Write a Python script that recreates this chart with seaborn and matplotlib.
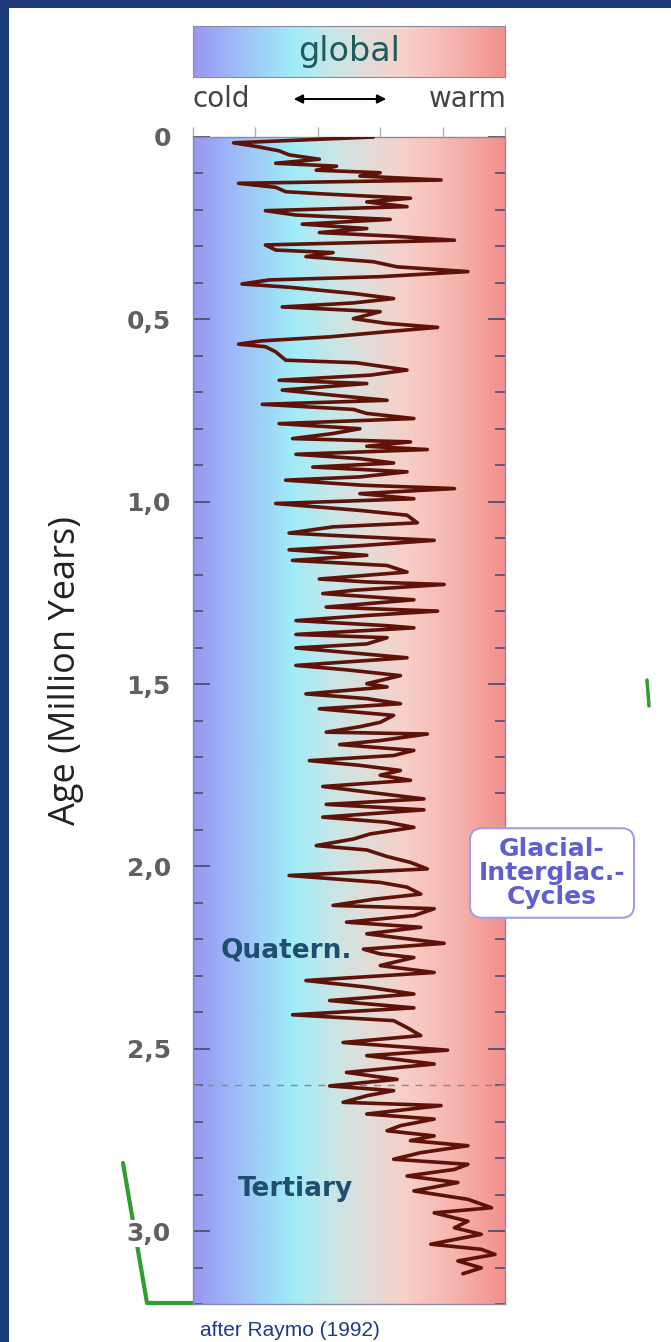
import matplotlib.pyplot as plt
import numpy as np
import pandas as pd
import seaborn as sns
from matplotlib.colors import LinearSegmentedColormap
from matplotlib.lines import Line2D
from matplotlib.patches import FancyArrowPatch, Rectangle
from matplotlib.ticker import MultipleLocator

# age in million years (top = present), temperature index 0 = cold, 100 = warm
AGES = [
    0.000, 0.016, 0.027, 0.038, 0.049, 0.061, 0.072, 0.080, 0.091, 0.098,
    0.107, 0.118, 0.127, 0.138, 0.150, 0.156, 0.168, 0.178, 0.191, 0.202,
    0.214, 0.226, 0.239, 0.251, 0.262, 0.272, 0.283, 0.296, 0.310, 0.317,
    0.328, 0.342, 0.356, 0.369, 0.383, 0.392, 0.403, 0.412, 0.429, 0.443,
    0.455, 0.466, 0.479, 0.498,
    0.511, 0.522, 0.534, 0.548, 0.559, 0.568, 0.575, 0.589, 0.612, 0.619,
    0.639, 0.653, 0.667, 0.676, 0.694, 0.708, 0.722, 0.733, 0.747, 0.758,
    0.772, 0.786, 0.800, 0.813, 0.827, 0.836, 0.848, 0.857, 0.870, 0.882,
    0.894, 0.905, 0.918, 0.932, 0.941, 0.955, 0.964, 0.978, 0.992, 1.005,
    1.024,
    1.037, 1.058, 1.069, 1.086, 1.092, 1.106, 1.120, 1.132, 1.147, 1.161,
    1.175, 1.193, 1.212, 1.220, 1.227, 1.243, 1.252, 1.269, 1.289, 1.300,
    1.312, 1.326, 1.340, 1.346, 1.364, 1.373, 1.390, 1.401, 1.415, 1.428,
    1.449, 1.461, 1.477, 1.499, 1.508, 1.527, 1.540, 1.554, 1.568,
    1.586, 1.605, 1.617, 1.632, 1.637, 1.655, 1.666, 1.682, 1.696, 1.710,
    1.723, 1.737, 1.750, 1.764, 1.781, 1.796, 1.815, 1.830, 1.845, 1.865,
    1.879, 1.893, 1.911, 1.925, 1.943, 1.955, 1.973, 1.989, 2.007, 2.025,
    2.044, 2.057, 2.076, 2.090,
    2.107, 2.116, 2.135, 2.153, 2.167, 2.185, 2.211, 2.227, 2.240, 2.250,
    2.272, 2.291, 2.313, 2.331, 2.350, 2.368, 2.388, 2.407, 2.423, 2.442,
    2.464, 2.483, 2.504, 2.519, 2.542, 2.565, 2.584, 2.602,
    2.615, 2.629, 2.647, 2.656, 2.679, 2.693, 2.711, 2.725, 2.739, 2.752,
    2.766, 2.785, 2.803, 2.817, 2.831, 2.849, 2.867, 2.890, 2.913, 2.936,
    2.950, 2.973, 2.991, 3.009, 3.036, 3.050, 3.064, 3.082, 3.101, 3.117,
]
TEMP_INDEX = [
    57.8, 13.0, 21.0, 27.6, 30.8, 40.5, 26.5, 46.0, 39.5, 60.0,
    53.5, 79.5, 14.6, 26.5, 29.7, 41.6, 69.7, 55.7, 68.6, 23.2,
    33.0, 63.2, 35.0, 55.7, 40.5, 64.3, 83.8, 23.2, 26.5, 44.9,
    36.2, 57.8, 65.4, 88.1, 60.0, 24.3, 15.7, 30.8, 51.4, 64.3,
    51.4, 28.6, 60.0, 51.4,
    62.0, 78.4, 62.0, 43.8, 22.0, 14.6, 23.2, 26.5, 29.7, 52.4,
    68.6, 56.8, 27.6, 55.7, 28.6, 44.9, 62.2, 22.2, 51.4, 55.7,
    70.8, 27.6, 53.5, 44.9, 31.9, 69.7, 55.7, 75.1, 33.0, 53.5,
    64.3, 38.4, 68.6, 53.5, 29.7, 54.6, 83.8, 53.5, 70.8, 26.5,
    53.5,
    68.6, 71.9, 44.9, 30.8, 43.8, 77.3, 54.6, 30.8, 55.7, 31.9,
    62.2, 68.6, 40.5, 55.7, 80.5, 51.4, 41.6, 70.8, 42.7, 78.4,
    55.7, 33.0, 62.2, 70.8, 33.0, 62.2, 55.7, 33.0, 51.4, 68.6,
    33.0, 49.2, 66.5, 55.7, 62.2, 36.2, 55.7, 66.5, 40.5,
    64.3, 60.0, 53.5, 42.7, 75.1, 60.0, 47.0, 70.8, 64.3, 37.3,
    53.5, 66.5, 60.0, 69.7, 41.6, 55.7, 74.0, 42.7, 74.0, 41.6,
    62.2, 70.8, 56.8, 51.4, 39.5, 55.7, 62.2, 69.7, 75.1, 30.8,
    60.0, 68.6, 73.0, 58.0,
    44.9, 77.3, 70.8, 49.2, 73.0, 55.7, 80.5, 54.6, 60.0, 70.8,
    60.0, 77.3, 36.2, 55.7, 70.8, 43.8, 70.8, 31.9, 64.3, 68.6,
    73.0, 48.1, 81.6, 55.7, 77.3, 49.2, 65.4, 43.8,
    64.3, 55.7, 48.1, 79.5, 55.7, 77.3, 66.5, 62.2, 77.3, 69.7,
    88.1, 73.0, 64.3, 88.1, 83.8, 68.6, 84.9, 70.8, 88.1, 95.7,
    77.3, 88.1, 83.8, 92.4, 76.2, 92.4, 96.8, 84.9, 92.4, 86.5,
]
Y_TICKS = [0, 0.5, 1.0, 1.5, 2.0, 2.5, 3.0]
Y_TICK_LABELS = ["0", "0,5", "1,0", "1,5", "2,0", "2,5", "3,0"]
BOUNDARY_AGE = 2.6
MAX_AGE = 3.2

W, H = 671, 1342

sns.set_style("white")
plt.rcParams["font.family"] = ["DejaVu Sans"]

cmap = LinearSegmentedColormap.from_list(
    "coldwarm",
    [(0.0, "#9a96f2"), (0.14, "#9ebcf8"), (0.32, "#a0ecf8"), (0.45, "#c8e6e8"),
     (0.56, "#e2dcd8"), (0.68, "#f8d0c9"), (0.85, "#f6b2ac"), (1.0, "#f3908d")],
)
gradient = np.linspace(0, 1, 256)[None, :]

fig = plt.figure(figsize=(W / 100, H / 100), dpi=100)
fig.patch.set_facecolor("#1c3a78")
fig.add_artist(Rectangle((9 / W, 0), 1, 1 - 8 / H, transform=fig.transFigure,
                         facecolor="white", edgecolor="none", zorder=-2))

# main panel
ax = fig.add_axes([193 / W, 1 - 1304 / H, 312 / W, 1167 / H])
ax.imshow(gradient, extent=[0, 100, MAX_AGE, 0], aspect="auto", cmap=cmap, zorder=0)

df = pd.DataFrame({"age": AGES, "temp": TEMP_INDEX})
sns.lineplot(data=df, x="temp", y="age", orient="y", estimator=None,
             color="#5e1208", lw=2.6, ax=ax, zorder=3)
ax.axhline(BOUNDARY_AGE, color="#8a8a8a", lw=1, ls=(0, (5, 5)), zorder=2)

ax.set_xlim(0, 100)
ax.set_ylim(MAX_AGE, 0)
ax.set_xlabel("")
ax.set_ylabel("")

ax.set_yticks(Y_TICKS)
ax.set_yticklabels(Y_TICK_LABELS)
ax.yaxis.set_minor_locator(MultipleLocator(0.1))
ax.tick_params(axis="y", which="major", direction="in", length=12, width=1.4,
               left=True, right=True, color="#555577", pad=16,
               labelsize=18, labelcolor="#606060")
ax.tick_params(axis="y", which="minor", direction="in", length=7, width=1.3,
               left=True, right=True, color="#555577")
for lbl in ax.get_yticklabels():
    lbl.set_fontweight("bold")
    lbl.set_bbox(dict(facecolor="white", edgecolor="none", pad=1))

ax.xaxis.tick_top()
ax.set_xticks(range(0, 101, 20))
ax.tick_params(axis="x", direction="out", length=7, width=1, color="#b0b0b0",
               labeltop=False, labelbottom=False, bottom=False)
for sp in ax.spines.values():
    sp.set_color("#8a8aa0")
    sp.set_linewidth(1)

ax.text(30, 2.231, "Quatern.", ha="center", va="center", fontsize=19,
        fontweight="bold", color="#1f4f6e", zorder=4)
ax.text(33, 2.884, "Tertiary", ha="center", va="center", fontsize=19,
        fontweight="bold", color="#1f4f6e", zorder=4)

# legend bar on top
cax = fig.add_axes([193 / W, 1 - 77 / H, 312 / W, 51 / H])
cax.imshow(gradient, extent=[0, 100, 0, 1], aspect="auto", cmap=cmap)
cax.set_xticks([])
cax.set_yticks([])
for sp in cax.spines.values():
    sp.set_color("#8a8aa0")
cax.text(50, 0.5, "global", ha="center", va="center", fontsize=24, color="#1d5c5c")

fig.text(192 / W, 1 - 99 / H, "cold", ha="left", va="center", fontsize=20, color="#444444")
fig.text(507 / W, 1 - 99 / H, "warm", ha="right", va="center", fontsize=20, color="#444444")
fig.add_artist(FancyArrowPatch(
    (291 / W, 1 - 99 / H), (389 / W, 1 - 99 / H), transform=fig.transFigure,
    arrowstyle="<|-|>", mutation_scale=13, color="black", lw=1.4))

fig.text(66 / W, 1 - 670 / H, "Age (Million Years)", rotation=90, ha="center",
         va="center", fontsize=26, color="#222222", family="Open Sans")

fig.text(552 / W, 1 - 873 / H, "Glacial-\nInterglac.-\nCycles", ha="center",
         va="center", fontsize=18, fontweight="bold", color="#5f5fd2",
         linespacing=1.0, zorder=5,
         bbox=dict(boxstyle="round,pad=0.35,rounding_size=0.5",
                   facecolor="white", edgecolor="#a0a0e6", lw=1.5))

fig.text(200 / W, 1 - 1330 / H, "after Raymo (1992)", ha="left", va="center",
         fontsize=15, color="#1d3b8c", family="Liberation Sans")

# green slide marks
fig.add_artist(Line2D([123 / W, 147 / W, 193 / W], [1 - 1163 / H, 1 - 1303 / H, 1 - 1303 / H],
                      transform=fig.transFigure, color="#2f9e2f", lw=3, zorder=-1))
fig.add_artist(Line2D([647 / W, 649 / W], [1 - 680 / H, 1 - 706 / H],
                      transform=fig.transFigure, color="#2f9e2f", lw=2.5, zorder=-1))

fig.savefig("out.png", dpi=100)
